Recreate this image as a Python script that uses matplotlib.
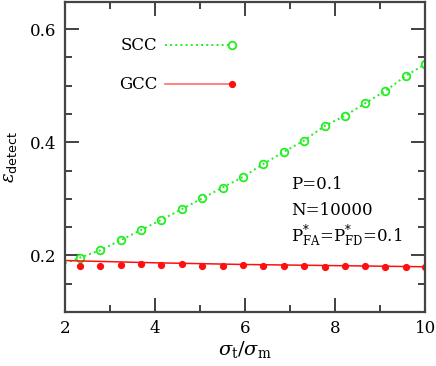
import numpy as np
import matplotlib.pyplot as plt
from matplotlib.ticker import MultipleLocator

# значения
ratio = [2.33, 2.78, 3.24, 3.69, 4.14, 4.60, 5.05, 5.50, 5.96,
         6.41, 6.86, 7.31, 7.77, 8.22, 8.67, 9.12, 9.58, 10.0]
scc = [0.196, 0.209, 0.227, 0.245, 0.263, 0.282, 0.301, 0.320, 0.339,
       0.362, 0.383, 0.403, 0.429, 0.447, 0.469, 0.491, 0.518, 0.538]
gcc = [0.181, 0.182, 0.183, 0.184, 0.183, 0.184, 0.182, 0.182, 0.183,
       0.182, 0.181, 0.182, 0.180, 0.181, 0.181, 0.180, 0.180, 0.180]

# линии (SCC продлена до x=2, GCC - сглаженная кривая)
scc_line_x = [2.0] + ratio
scc_line_y = [0.186] + scc
gcc_line_x = [2, 4, 6, 8, 10]
gcc_line_y = [0.191, 0.187, 0.184, 0.182, 0.180]

green = '#22ee22'
red = '#ff1010'

plt.rcParams['font.family'] = 'DejaVu Serif'
plt.rcParams['mathtext.fontset'] = 'dejavuserif'

fig = plt.figure(figsize=(4.36, 3.66), dpi=100)
ax = fig.add_axes([0.149, 0.1475, 0.826, 0.847])

ax.plot(scc_line_x, scc_line_y, ':', color=green, lw=1.4)
ax.plot(ratio, scc, 'o', mfc='none', mec=green, mew=1.3, ms=5.5)
ax.plot(gcc_line_x, gcc_line_y, '-', color=red, lw=1.1)
ax.plot(ratio, gcc, 'o', color=red, ms=4.2)

ax.set_xlim(2, 10)
ax.set_ylim(0.1, 0.648)
ax.xaxis.set_major_locator(MultipleLocator(2))
ax.xaxis.set_minor_locator(MultipleLocator(1))
ax.yaxis.set_major_locator(MultipleLocator(0.2))
ax.yaxis.set_minor_locator(MultipleLocator(0.05))
ax.tick_params(which='both', direction='in', top=True, right=True,
               colors='#333333', labelcolor='black', labelsize=12)
ax.tick_params(which='major', length=10, width=1.3, pad=6)
ax.tick_params(which='minor', length=5, width=1.3)
for s in ax.spines.values():
    s.set_linewidth(1.6)
    s.set_color('#444444')

ax.set_xlabel(r'$\sigma_{\rm t}/\sigma_{\rm m}$', fontsize=14, labelpad=1)
ax.set_ylabel(r'$\epsilon_{\mathsf{detect}}$', fontsize=13, labelpad=8)

# легенда вручную
tr = ax.transAxes
ax.text(0.256, 0.861, 'SCC', transform=tr, ha='right', va='center', fontsize=12)
ax.plot([0.278, 0.464], [0.861, 0.861], ':', color=green, lw=1.4, transform=tr)
ax.plot([0.464], [0.861], 'o', mfc='none', mec=green, mew=1.3, ms=5.5, transform=tr)
ax.text(0.256, 0.735, 'GCC', transform=tr, ha='right', va='center', fontsize=12)
ax.plot([0.278, 0.464], [0.735, 0.735], '-', color='#ff6060', lw=1.1, transform=tr)
ax.plot([0.464], [0.735], 'o', color=red, ms=4.2, transform=tr)

ax.text(0.628, 0.41, 'P=0.1', transform=tr, va='center', fontsize=12)
ax.text(0.628, 0.326, 'N=10000', transform=tr, va='center', fontsize=12)
ax.text(0.628, 0.245, r'P$^{*}_{\rm FA}$=P$^{*}_{\rm FD}$=0.1', transform=tr,
        va='center', fontsize=12)

fig.savefig('out.png', dpi=100)
